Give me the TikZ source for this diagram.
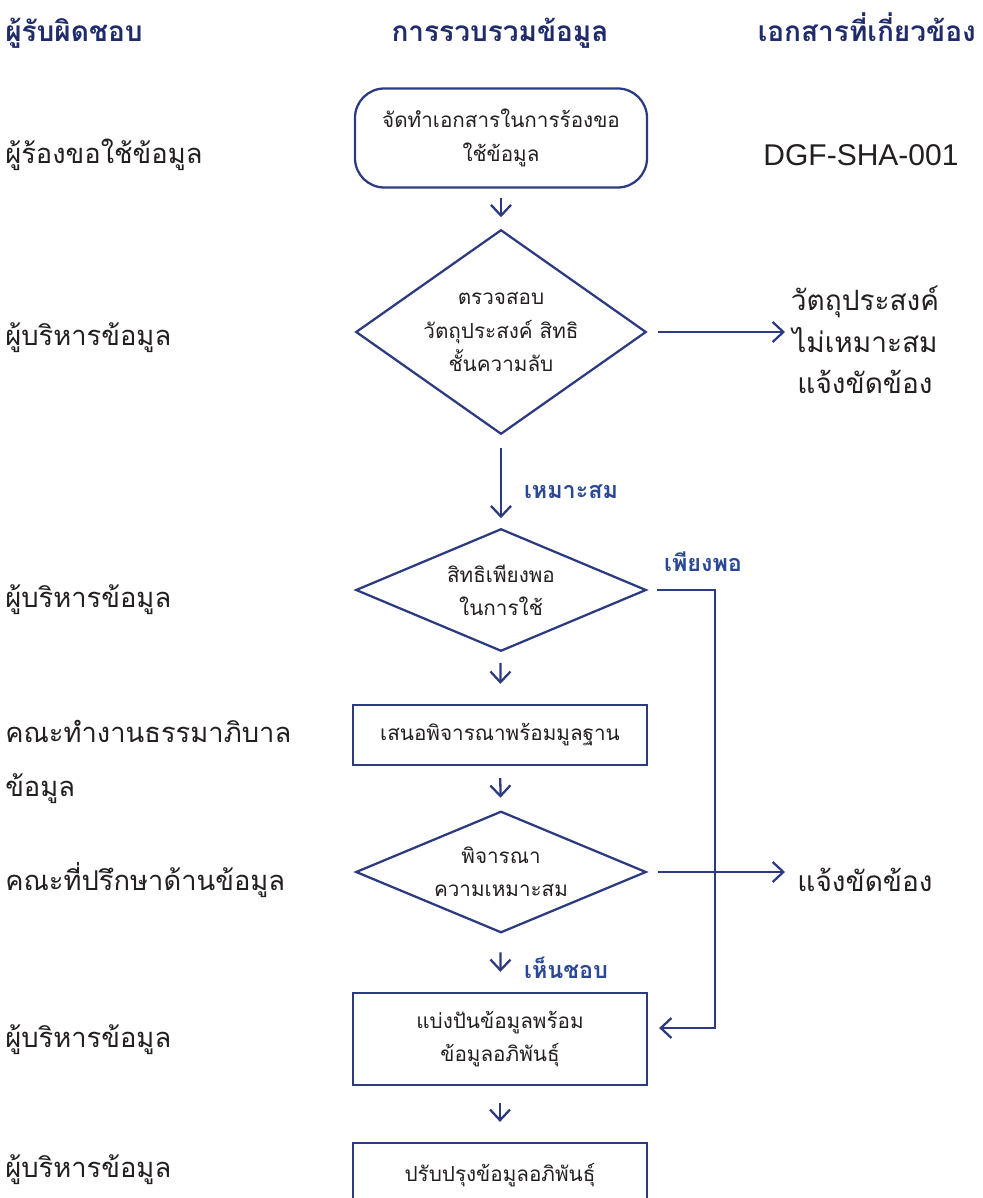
\documentclass[tikz,border=0pt]{standalone}
\usepackage{fontspec}
\setmainfont[Script=Thai]{Loma}
\newfontfamily\latinsans{Liberation Sans}
\usetikzlibrary{arrows.meta}
\definecolor{navy}{HTML}{2C3A80}
\definecolor{headc}{HTML}{202B6B}
\definecolor{tagc}{HTML}{2A4896}
\definecolor{ink}{HTML}{231F20}
\begin{document}
\begin{tikzpicture}[x=0.75pt,y=-0.75pt,
  lbl/.style={anchor=west, inner sep=0pt, text=ink, align=left,
    font=\fontsize{20.5}{41}\selectfont},
  head/.style={inner sep=0pt, text=headc, font=\bfseries\fontsize{21}{24}\selectfont},
  tag/.style={inner sep=0pt, text=tagc, font=\bfseries\fontsize{17.5}{20}\selectfont},
  side/.style={inner sep=0pt, text=ink, align=center, font=\fontsize{21}{31}\selectfont},
  inbox/.style={inner sep=0pt, text=ink, align=center, font=\fontsize{15.5}{25}\selectfont},
  stepbox/.style={inbox, draw=navy, line width=1.7pt, minimum width=220.5pt},
  decision/.style={inbox, minimum width=216.75pt},
  diamondline/.style={draw=navy, line width=1.7pt, line join=miter},
  flow/.style={draw=navy, line width=1.7pt, -{Straight Barb[length=8pt,width=15pt,line width=1.7pt]}}
]
\clip (0,0) rectangle (982,1198);

% column headings, sharing one baseline
\node[head, anchor=base west] (h1) at (5,42) {ผู้รับผิดชอบ};
\node[head, anchor=base] (h2) at (500,42) {การรวบรวมข้อมูล};
\node[head, anchor=base east] (h3) at (976,42) {เอกสารที่เกี่ยวข้อง};

% responsible parties
\node[lbl] (r1) at (5,155) {ผู้ร้องขอใช้ข้อมูล};
\node[lbl] (r2) at (5,338) {ผู้บริหารข้อมูล};
\node[lbl] (r3) at (5,600) {ผู้บริหารข้อมูล};
\node[lbl] (r4) at (5,762) {คณะทำงานธรรมาภิบาล\\ข้อมูล};
\node[lbl] (r5) at (5,880) {คณะที่ปรึกษาด้านข้อมูล};
\node[lbl] (r6) at (5,1040) {ผู้บริหารข้อมูล};
\node[lbl] (r7) at (5,1170) {ผู้บริหารข้อมูล};

% process steps
\node[stepbox, rounded corners=22pt, minimum width=219pt, minimum height=74.25pt]
  (b1) at (501,138) {จัดทำเอกสารในการร้องขอ\\ใช้ข้อมูล};
\node[decision, minimum height=152.25pt] (d1) at (501,332)
  {ตรวจสอบ\\วัตถุประสงค์ สิทธิ\\ชั้นความลับ};
\node[decision, minimum height=90.75pt] (d2) at (501,590)
  {สิทธิเพียงพอ\\ในการใช้};
\node[stepbox, minimum height=45pt] (b3) at (500,735) {เสนอพิจารณาพร้อมมูลฐาน};
\node[decision, minimum height=90pt] (d3) at (501,872)
  {พิจารณา\\ความเหมาะสม};
\node[stepbox, minimum height=69pt] (b4) at (500,1039)
  {แบ่งปันข้อมูลพร้อม\\ข้อมูลอภิพันธุ์};
\node[stepbox, minimum height=48pt] (b5) at (500,1175) {ปรับปรุงข้อมูลอภิพันธุ์};

% decision outlines
\foreach \d in {d1,d2,d3}
  \draw[diamondline] (\d.north) -- (\d.east) -- (\d.south) -- (\d.west) -- cycle;

% related documents / outcomes
\node[side, font=\latinsans\fontsize{22.5}{26}\selectfont] (doc1) at (861,155) {DGF-SHA-001};
\node[side] (o1) at (865,340) {วัตถุประสงค์\\ไม่เหมาะสม\\แจ้งขัดข้อง};
\node[side] (o2) at (865,880) {แจ้งขัดข้อง};
\coordinate (e1) at (785,332);
\coordinate (e2) at (785,872);
\coordinate (j) at (715,590);

% main flow
\draw[flow, shorten <=6.75pt, shorten >=9.75pt] (b1) -- (d1);
\draw[flow, shorten <=10.5pt, shorten >=8.25pt] (d1) -- (d2);
\draw[flow, shorten <=9pt, shorten >=15pt] (d2) -- (b3);
\draw[flow, shorten <=9pt, shorten >=10.5pt] (b3) -- (d3);
\draw[flow, shorten <=15pt, shorten >=15pt] (d3) -- (b4);
\draw[flow, shorten <=12.75pt, shorten >=15pt] (b4) -- (b5);

% branches
\draw[flow, shorten <=9pt] (d1.east) -- (e1);
\draw[flow, shorten <=9pt] (d3.east) -- (e2);
\draw[flow, line join=miter] ([xshift=8.25pt]d2.east) -- (j) |- ([shift={(11,-11)}]b4.east);

% branch labels
\node[tag] (t1) at (571,492) {เหมาะสม};
\node[tag] (t2) at (703,562) {เพียงพอ};
\node[tag] (t3) at (566,968) {เห็นชอบ};
\end{tikzpicture}
\end{document}
